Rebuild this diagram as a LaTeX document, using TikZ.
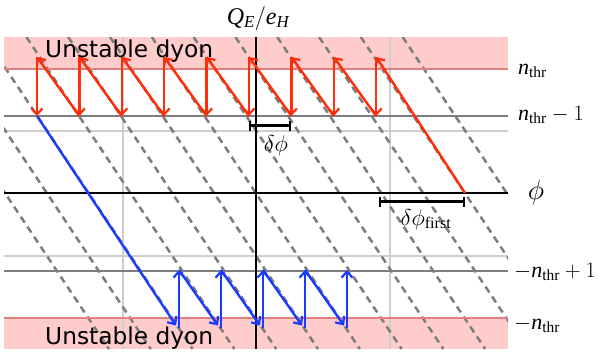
\documentclass[tikz,border=0pt]{standalone}
\usepackage{fix-cm}
\usepackage{fontspec}
\setmainfont{Liberation Serif}
\newfontfamily\dejavu{DejaVu Sans}
\usetikzlibrary{arrows.meta}
\definecolor{pinkfill}{RGB}{255,204,204}
\definecolor{pinkline}{RGB}{226,128,128}
\definecolor{redarr}{RGB}{255,45,10}
\definecolor{bluearr}{RGB}{25,60,255}
\definecolor{gridlight}{RGB}{206,206,206}
\definecolor{gridmid}{RGB}{125,125,125}
\definecolor{dashgray}{RGB}{125,125,125}
\newcommand{\nthr}{\mathit{n}_{\mathrm{thr}}}
\begin{document}
\begin{tikzpicture}[x=1pt,y=-1pt,
  lattice/.style={dashgray,line width=2.5pt,dash pattern=on 7pt off 5pt},
  redarrow/.style={redarr,line width=2.4pt,-{Straight Barb[length=6pt,width=11pt,line width=2.2pt]}},
  bluearrow/.style={bluearr,line width=2.4pt,-{Straight Barb[length=6pt,width=11pt,line width=2.2pt]}},
  lightline/.style={gridlight,line width=1.5pt},
  midline/.style={gridmid,line width=2.5pt},
  bandline/.style={pinkline,line width=1.5pt},
  axisline/.style={black,line width=2pt},
  bracket/.style={black,line width=2.2pt,{Bar[width=10pt,line width=2.2pt]}-{Bar[width=10pt,line width=2.2pt]}},
  mathlbl/.style={inner sep=0pt,font=\fontsize{23}{25}\selectfont},
  sidelbl/.style={inner sep=0pt,anchor=base west,font=\fontsize{22}{24}\selectfont},
  bandtext/.style={inner sep=0pt,anchor=base west,font=\dejavu\fontsize{23.3}{26}\selectfont}
]
\useasboundingbox (0,0) rectangle (599,359);
% bands
\fill[pinkfill] (4,37) rectangle (508,69);
\fill[pinkfill] (4,318) rectangle (508,349);
% light grid
\draw[lightline] (4,131) -- (508,131);
\draw[lightline] (4,256) -- (508,256);
\draw[lightline] (123,37) -- (123,349);
\draw[lightline] (390,37) -- (390,349);
% dashed lattice
\begin{scope}
\clip (4,37) rectangle (508,349);
\foreach \k in {0,...,12} {
  \draw[lattice] ({5+41.8*\k-104},37) -- ({5+41.8*\k+104},349);
}
\end{scope}
% threshold lines
\draw[midline] (4,116) -- (508,116);
\draw[midline] (4,271) -- (508,271);
\draw[bandline] (4,69) -- (508,69);
\draw[bandline] (4,318) -- (508,318);
% axes
\draw[axisline] (4,193) -- (508,193);
\draw[axisline] (256,37) -- (256,349);
% red sawtooth
\foreach \j in {0,...,8} {
  \coordinate (rt\j) at ({37+42.4*\j},57);
  \coordinate (rb\j) at ({37+42.4*\j},116);
}
\coordinate (rstart) at (465,193);
\draw[redarrow] (rstart) -- (rt8);
\foreach \j in {0,...,8} { \draw[redarrow] (rt\j) -- (rb\j); }
\foreach \j/\n in {0/1,1/2,2/3,3/4,4/5,5/6,6/7,7/8} { \draw[redarrow] (rb\n) -- (rt\j); }
% blue sawtooth
\foreach \i/\x in {0/179,1/221,2/263,3/305,4/347} {
  \coordinate (bb\i) at (\x,328);
  \coordinate (bt\i) at (\x,270);
  \coordinate (bl\i) at ({\x-3},325.5);
}
\draw[bluearrow] (rb0) -- (bl0);
\foreach \i in {0,...,4} { \draw[bluearrow] (bb\i) -- (bt\i); }
\foreach \i/\n in {0/1,1/2,2/3,3/4} { \draw[bluearrow] (bt\i) -- (bl\n); }
% brackets
\coordinate (d1a) at (249,125.5);
\coordinate (d1b) at (291,125.5);
\coordinate (d2a) at (379,201.5);
\coordinate (d2b) at (465,201.5);
\draw[bracket] (d1a) -- (d1b);
\draw[bracket] (d2a) -- (d2b);
% labels
\node[mathlbl,anchor=base] (ldphi) at (276,151) {$\delta\phi$};
\node[mathlbl,anchor=base] (ldphif) at (426,225) {$\delta\phi_{\mathrm{first}}$};
\node[inner sep=0pt,anchor=base,font=\fontsize{24}{26}\selectfont] (lq) at (258,24) {$\mathit{Q}_{\mathit{E}}/\mathit{e}_{\mathit{H}}$};
\node[sidelbl] (ln1) at (518,74) {$\nthr$};
\node[sidelbl] (ln2) at (518,120) {$\nthr-1$};
\node[sidelbl] (ln3) at (514,277) {$-\nthr+1$};
\node[sidelbl] (ln4) at (514,329) {$-\nthr$};
\node[inner sep=0pt,anchor=base,font=\fontsize{28}{30}\selectfont] (lphi) at (536,199) {$\phi$};
\node[bandtext] (ut) at (45,57) {Unstable dyon};
\node[bandtext] (ub) at (45,344) {Unstable dyon};
\end{tikzpicture}
\end{document}
